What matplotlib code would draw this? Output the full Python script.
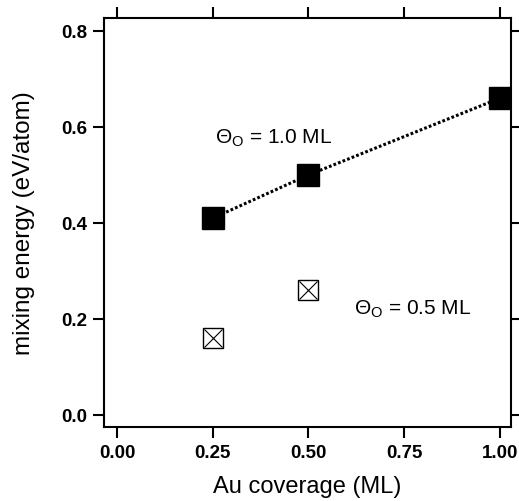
import matplotlib
matplotlib.use("Agg")
import matplotlib.pyplot as plt

plt.rcParams['font.family'] = ['Liberation Sans', 'DejaVu Sans']
plt.rcParams['mathtext.fontset'] = 'custom'
plt.rcParams['mathtext.rm'] = 'Liberation Sans'
plt.rcParams['mathtext.it'] = 'Liberation Sans'

x_full = [0.25, 0.50, 1.00]
y_full = [0.41, 0.50, 0.66]
x_half = [0.25, 0.50]
y_half = [0.16, 0.26]
xticks = [0.00, 0.25, 0.50, 0.75, 1.00]
xticklabels = ["0.00", "0.25", "0.50", "0.75", "1.00"]
yticks = [0.0, 0.2, 0.4, 0.6, 0.8]
yticklabels = ["0.0", "0.2", "0.4", "0.6", "0.8"]

fig = plt.figure(figsize=(5.19, 5.02), dpi=100)
ax = fig.add_axes([104/519, 1-428/502, (511-104)/519, (428-19)/502])

ax.plot(x_full, y_full, linestyle=(0, (0.9, 0.7)), color='black', linewidth=2.2, zorder=2)
ax.plot(x_full, y_full, linestyle='none', marker='s', markersize=15.5,
        color='black', zorder=3)
ax.plot(x_half, y_half, linestyle='none', marker='s', markersize=14,
        markerfacecolor='white', markeredgecolor='black', markeredgewidth=1.0, zorder=3)
ax.plot(x_half, y_half, linestyle='none', marker='x', markersize=13,
        color='black', markeredgewidth=0.8, zorder=4)

ax.set_xlim(-0.034, 1.029)
ax.set_ylim(-0.025, 0.827)
ax.set_xticks(xticks)
ax.set_xticklabels(xticklabels)
ax.set_yticks(yticks)
ax.set_yticklabels(yticklabels)

for s in ax.spines.values():
    s.set_linewidth(1.5)
ax.tick_params(direction='out', length=8, width=1.5, top=True, right=True,
               labelsize=13.5, pad=4)
ax.tick_params(axis='y', which='both', right=True, labelright=False)
ax.tick_params(axis='x', which='both', top=True, labeltop=False)
for lab in ax.get_xticklabels() + ax.get_yticklabels():
    lab.set_fontweight('bold')

ax.set_xlabel('Au coverage (ML)', fontsize=17, labelpad=10)
ax.set_ylabel('mixing energy (eV/atom)', fontsize=17.5, labelpad=19)

ax.text(0.409, 0.578, r'$\Theta_{\mathrm{O}}$ = 1.0 ML', fontsize=15, ha='center', va='center')
ax.text(0.773, 0.222, r'$\Theta_{\mathrm{O}}$ = 0.5 ML', fontsize=15, ha='center', va='center')

fig.savefig('out.png', dpi=100)
